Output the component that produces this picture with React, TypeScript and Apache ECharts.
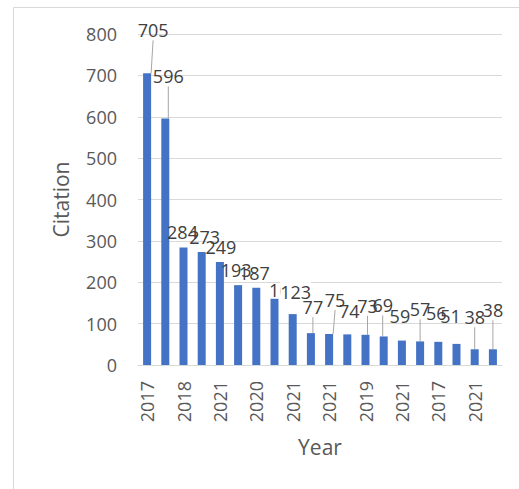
import React, { useEffect, useRef } from "react";
import * as echarts from "echarts";

const years = [
  "2017", "2017", "2018", "2019", "2021", "2020", "2020", "2021", "2021", "2020",
  "2021", "2021", "2019", "2020", "2021", "2018", "2017", "2021", "2021", "2021",
];
const citations = [705, 596, 284, 273, 249, 193, 187, 160, 123, 77, 75, 74, 73, 69, 59, 57, 56, 51, 38, 38];
const yTicks = { min: 0, max: 800, step: 100 };

// label placement (style only): [dx, dy, leader line]
const labelShift: [number, number, boolean][] = [
  [6, -28, true], [3, -27, true], [-1, 0, false], [3, 0, false], [1, 0, false],
  [-2, 0, false], [-2, 0, false], [10, 6, false], [3, -7, false], [2, -11, true],
  [6, -19, true], [2, -8, false], [2, -14, true], [-1, -16, true], [-2, -10, false],
  [0, -17, true], [-2, -14, false], [-6, -13, false], [0, -17, true], [0, -24, true],
];
// labels drawn with an opaque box (covering the label underneath, as in the reference)
const opaqueLabels = [8];

const FONT = "'Open Sans', 'Liberation Sans', sans-serif";

export default function App() {
  const ref = useRef<HTMLDivElement>(null);
  useEffect(() => {
    if (!ref.current) return;
    const chart = echarts.init(ref.current, undefined, { renderer: "svg" });
    chart.setOption({
      animation: false,
      backgroundColor: "#ffffff",
      grid: { left: 138, right: 17, top: 34, bottom: 124, containLabel: false },
      graphic: [
        { type: "line", shape: { x1: 13.5, y1: 7.5, x2: 519, y2: 7.5 }, style: { stroke: "#d9d9d9", lineWidth: 1 } },
        { type: "line", shape: { x1: 13.5, y1: 7.5, x2: 13.5, y2: 489 }, style: { stroke: "#d9d9d9", lineWidth: 1 } },
      ],
      xAxis: {
        type: "category",
        data: years,
        name: "Year",
        nameLocation: "middle",
        nameGap: 71,
        nameTextStyle: { color: "#595959", fontSize: 21, fontFamily: FONT },
        axisLine: { lineStyle: { color: "#d9d9d9", width: 1 } },
        axisTick: { show: false },
        axisLabel: {
          interval: 1,
          rotate: 90,
          margin: 16,
          color: "#595959",
          fontSize: 18,
          fontFamily: FONT,
        },
      },
      yAxis: {
        type: "value",
        min: yTicks.min,
        max: yTicks.max,
        interval: yTicks.step,
        name: "Citation",
        nameLocation: "middle",
        nameGap: 67,
        nameTextStyle: { color: "#595959", fontSize: 21, fontFamily: FONT },
        axisLine: { show: false },
        axisTick: { show: false },
        axisLabel: { margin: 21, color: "#595959", fontSize: 18, fontFamily: FONT },
        splitLine: { lineStyle: { color: "#d9d9d9", width: 1 } },
      },
      series: [
        {
          type: "bar",
          barWidth: 8,
          itemStyle: { color: "#4472C4" },
          data: citations.map((v, i) => {
            const item: any = { value: v, labelLine: { show: labelShift[i][2] } };
            if (opaqueLabels.includes(i)) item.label = { backgroundColor: "#ffffff" };
            return item;
          }),
          label: {
            show: true,
            position: "top",
            distance: 5,
            color: "#404040",
            fontSize: 18,
            lineHeight: 20,
            fontFamily: FONT,
          },
          labelLine: { show: false, lineStyle: { color: "#a6a6a6", width: 1 } },
          labelLayout: (p: any) => ({ dx: labelShift[p.dataIndex][0], dy: labelShift[p.dataIndex][1] }),
        },
      ],
    });
    return () => chart.dispose();
  }, []);
  return (
    <div
      ref={ref}
      style={{ position: "absolute", left: 0, top: 0, width: 519, height: 489 }}
    />
  );
}
